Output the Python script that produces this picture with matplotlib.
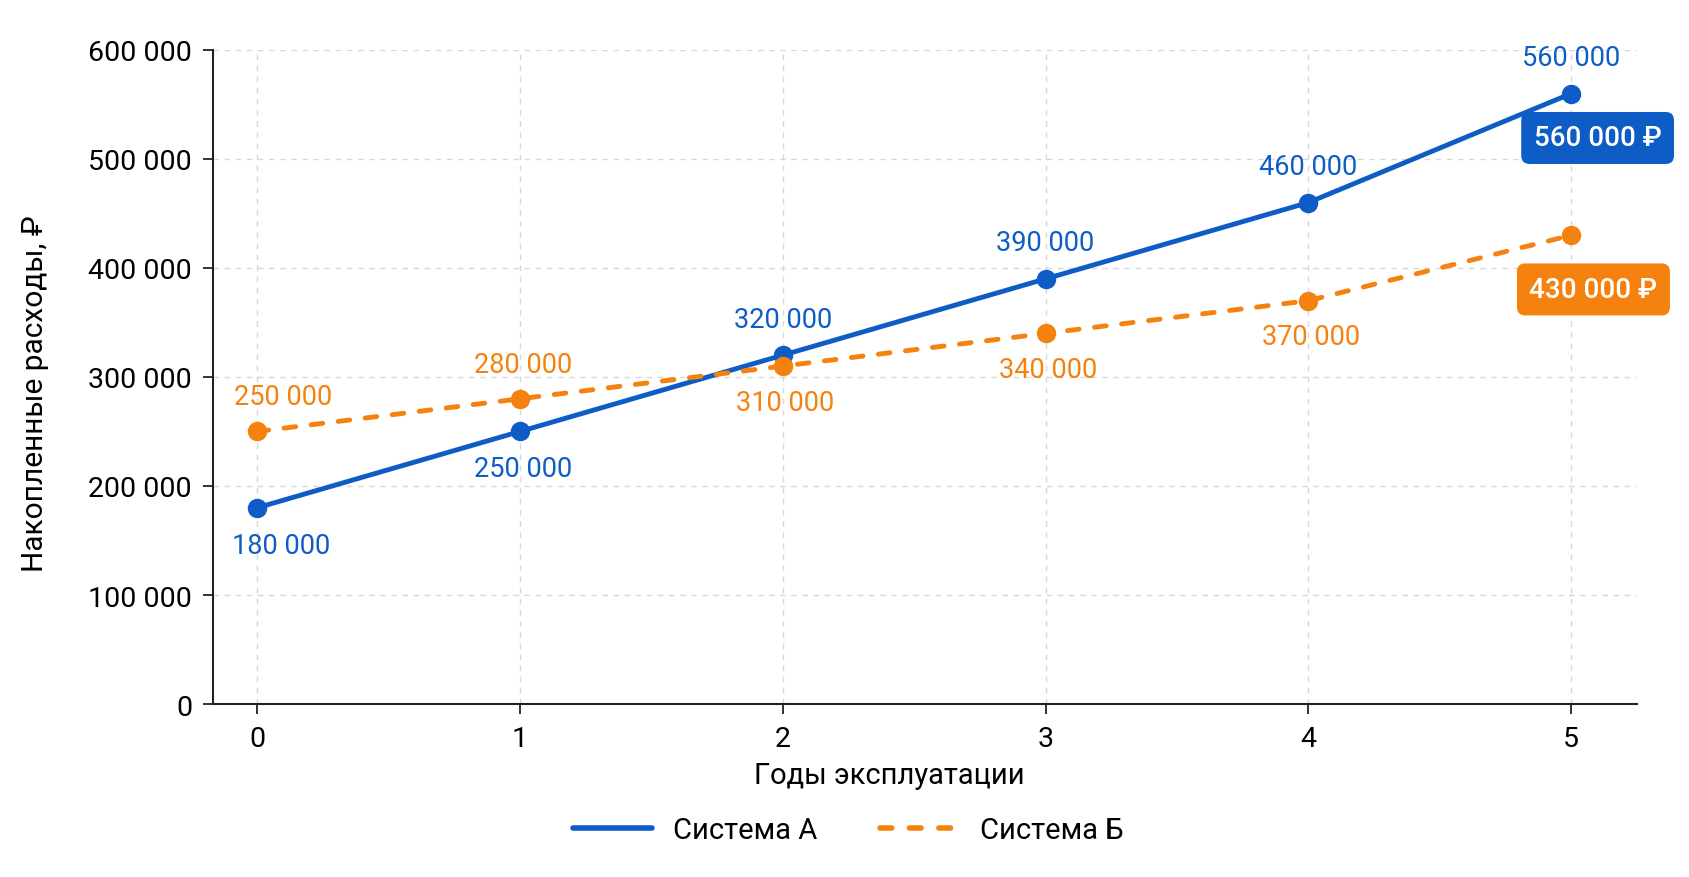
import matplotlib
matplotlib.use("Agg")
import matplotlib.pyplot as plt
from matplotlib.ticker import FuncFormatter
from matplotlib.lines import Line2D

plt.rcParams['font.family'] = ['Roboto', 'DejaVu Sans']

# data
years = [0, 1, 2, 3, 4, 5]
system_a = [180000, 250000, 320000, 390000, 460000, 560000]
system_b = [250000, 280000, 310000, 340000, 370000, 430000]
series_names = ['Система А', 'Система Б']

blue = '#0E5CC6'
orange = '#F5820F'
dash = (0, (2.4, 3.2))


def fmt(v):
    return f"{int(v):,}".replace(",", " ")


fig = plt.figure(figsize=(16.9, 8.78), dpi=100)
ax = fig.add_axes([0.126, 0.197, 0.8426, 0.745])

ax.plot(years, system_a, color=blue, lw=3.5, marker='o', ms=13,
        solid_capstyle='round', zorder=3)
ax.plot(years, system_b, color=orange, lw=3.5, marker='o', ms=13,
        ls=dash, dash_capstyle='round', zorder=3)

# point labels (blue)
for i, (x, y) in enumerate(zip(years, system_a)):
    if i < 2:
        off = (17 if i == 0 else 2, -27)
    else:
        off = (0, 26)
    ax.annotate(fmt(y), (x, y), xytext=off, textcoords='offset points',
                ha='center', va='center', color=blue, fontsize=19.5)

# point labels (orange), last one gets a badge instead
for i, (x, y) in enumerate(zip(years[:-1], system_b[:-1])):
    if i < 2:
        off = (19 if i == 0 else 2, 25)
    else:
        off = (2, -26)
    ax.annotate(fmt(y), (x, y), xytext=off, textcoords='offset points',
                ha='center', va='center', color=orange, fontsize=19.5)

# badges at the end
ax.annotate(fmt(system_a[-1]) + " ₽", (years[-1], system_a[-1]), xytext=(19, -32),
            textcoords='offset points', ha='center', va='center', color='white',
            fontsize=20, fontweight='medium',
            bbox=dict(boxstyle='round,pad=0.45,rounding_size=0.3', fc=blue, ec='none'))
ax.annotate(fmt(system_b[-1]) + " ₽", (years[-1], system_b[-1]), xytext=(16, -39),
            textcoords='offset points', ha='center', va='center', color='white',
            fontsize=20, fontweight='medium',
            bbox=dict(boxstyle='round,pad=0.45,rounding_size=0.3', fc=orange, ec='none'))

ax.set_xlim(-0.168, 5.25)
ax.set_ylim(0, 600000)
ax.set_xticks(years)
ax.set_yticks(range(0, 600001, 100000))
ax.yaxis.set_major_formatter(FuncFormatter(lambda v, p: fmt(v)))
ax.tick_params(labelsize=20.5, length=7, width=1.3, color='#222222', pad=8)

ax.grid(True, ls=(0, (4, 4)), color='#d8d8d8', lw=1)
ax.set_axisbelow(True)
for s in ['top', 'right']:
    ax.spines[s].set_visible(False)
for s in ['left', 'bottom']:
    ax.spines[s].set_linewidth(1.5)
    ax.spines[s].set_color('#222222')

ax.set_xlabel('Годы эксплуатации', fontsize=21)
ax.set_ylabel('Накопленные расходы, ₽', fontsize=21.5)
ax.xaxis.set_label_coords(0.475, -0.087)
ax.yaxis.set_label_coords(-0.115, 0.476)

handles = [Line2D([], [], color=blue, lw=4, solid_capstyle='round'),
           Line2D([], [], color=orange, lw=4, ls=(0, (2.1, 3.2)), dash_capstyle='round')]
fig.legend(handles, series_names, loc='center', bbox_to_anchor=(0.502, 0.0535), ncol=2,
           frameon=False, fontsize=21, handlelength=2.7, columnspacing=2.15,
           handletextpad=0.74)

fig.savefig('out.png', dpi=100, facecolor='white')
